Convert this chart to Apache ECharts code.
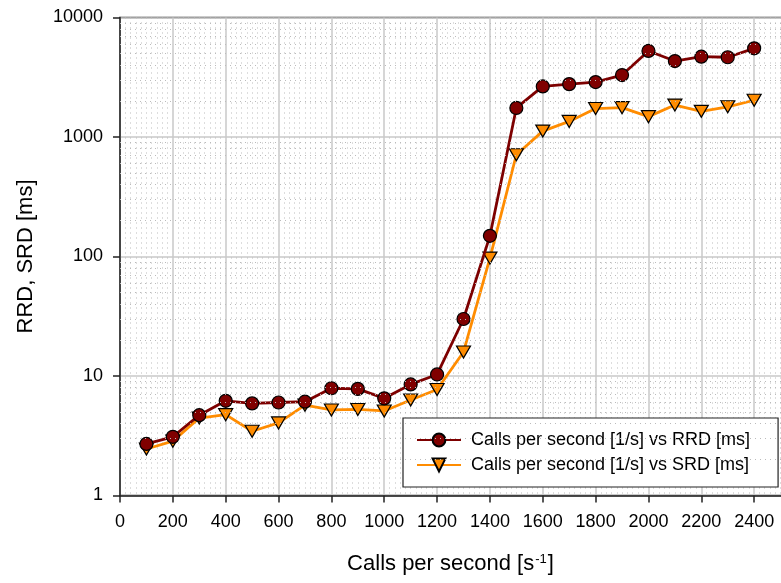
<!DOCTYPE html>
<html><head><meta charset="utf-8">
<script src="https://cdn.jsdelivr.net/npm/echarts@6/dist/echarts.min.js"></script>
<style>html,body{margin:0;padding:0;background:#fff}#c{width:781px;height:583px}</style>
</head><body><div id="c"></div>
<script>
// Data
const callsPerSecond = [100,200,300,400,500,600,700,800,900,1000,1100,1200,1300,1400,1500,1600,1700,1800,1900,2000,2100,2200,2300,2400];
const rrd = [2.7,3.1,4.7,6.2,5.9,6.0,6.1,7.9,7.8,6.5,8.5,10.3,30,149,1750,2650,2770,2880,3300,5250,4320,4700,4650,5520];
const srd = [2.45,2.85,4.45,4.75,3.45,4.05,5.7,5.2,5.25,5.1,6.3,7.7,15.9,97,710,1120,1350,1730,1760,1480,1850,1640,1790,2030];
const xTicks = [0,200,400,600,800,1000,1200,1400,1600,1800,2000,2200,2400];
const yTicks = [1,10,100,1000,10000];
const yMinorGrid = [2,3,4,5,6,7,8,9,20,30,40,50,60,70,80,90,200,300,400,500,600,700,800,900,2000,3000,4000,5000,6000,7000,8000,9000];
const rrdName = 'Calls per second [1/s] vs RRD [ms]';
const srdName = 'Calls per second [1/s] vs SRD [ms]';

const FONT = '"Liberation Sans", Arial, sans-serif';
const chart = echarts.init(document.getElementById('c'), null, {renderer:'canvas'});
const triDown = 'path://M0,0L12,0L6,10Z';

chart.setOption({
  animation: false,
  backgroundColor: '#fff',
  textStyle: {fontFamily: FONT, color: '#000'},
  grid: {left: 120, top: 17.5, right: -26, bottom: 87.5, show: true, borderColor: '#333', borderWidth: 1.5, backgroundColor: 'transparent', containLabel: false, outerBoundsMode: 'none'},
  legend: {
    left: 403, top: 418, orient: 'vertical',
    backgroundColor: '#fff', borderColor: '#222', borderWidth: 1.2, borderRadius: 0,
    padding: [12, 28, 12, 13],
    itemWidth: 44, itemHeight: 16, itemGap: 5,
    textStyle: {fontFamily: FONT, fontSize: 18, color: '#000', lineHeight: 20, padding: [0,0,0,5]},
    data: [rrdName, srdName]
  },
  xAxis: {
    type: 'value', min: 0, max: 2600, interval: 200,
    name: '{a|Calls per second [s}{s|-1}{a|]}',
    nameLocation: 'middle', nameGap: 57,
    nameTextStyle: {padding: [0, 26, 0, 0], rich: {
      a: {fontFamily: FONT, fontSize: 22, color: '#000'},
      s: {fontFamily: FONT, fontSize: 13, color: '#000', verticalAlign: 'top', padding: [0, 1, 10, 1]}
    }},
    axisLine: {show: true, onZero: false, lineStyle: {color: '#222', width: 1.5}},
    axisTick: {show: true, length: 7, lineStyle: {color: '#222', width: 1.5}},
    axisLabel: {fontFamily: FONT, fontSize: 18, color: '#000', margin: 18,
      formatter: v => (xTicks.indexOf(v) >= 0 ? String(v) : '')},
    splitLine: {show: true, lineStyle: {color: '#c8c8c8', width: 1.5}},
    minorTick: {show: false, splitNumber: 10},
    minorSplitLine: {show: true, lineStyle: {color: '#bbbbbb', width: 1, type: [1, 4]}}
  },
  yAxis: {
    type: 'log', logBase: 10, min: 1, max: 10000, splitNumber: 4,
    name: 'RRD, SRD [ms]', nameLocation: 'middle', nameGap: 83,
    nameTextStyle: {fontFamily: FONT, fontSize: 22, color: '#000'},
    axisLine: {show: true, lineStyle: {color: '#222', width: 1.5}},
    axisTick: {show: true, length: 7, lineStyle: {color: '#222', width: 1.5}},
    axisLabel: {fontFamily: FONT, fontSize: 18, color: '#000', margin: 17,
      formatter: v => { const r = Math.round(v); return yTicks.indexOf(r) >= 0 ? String(r) : ''; }},
    splitLine: {show: true, lineStyle: {color: '#c8c8c8', width: 1.5}},
    minorSplitLine: {show: false}
  },
  series: [
    {
      name: 'minorgrid', type: 'line', data: [], z: 1, silent: true,
      markLine: {silent: true, symbol: ['none','none'], label: {show: false}, animation: false,
        lineStyle: {color: '#bbbbbb', width: 1, type: [1, 4]},
        data: yMinorGrid.map(v => ({yAxis: v}))}
    },
    {
      name: rrdName, type: 'line', z: 4,
      data: callsPerSecond.map((x, i) => [x, rrd[i]]),
      symbol: 'circle', symbolSize: 13, showAllSymbol: true,
      lineStyle: {color: '#7d0000', width: 2.8},
      itemStyle: {color: '#800000', borderColor: '#000', borderWidth: 1.2}
    },
    {
      name: srdName, type: 'line', z: 3,
      data: callsPerSecond.map((x, i) => [x, srd[i]]),
      symbol: triDown, symbolSize: [14, 12], showAllSymbol: true,
      lineStyle: {color: '#ff8c00', width: 2.8},
      itemStyle: {color: '#ff8c00', borderColor: '#000', borderWidth: 1.2}
    }
  ]
});
</script>
</body></html>
